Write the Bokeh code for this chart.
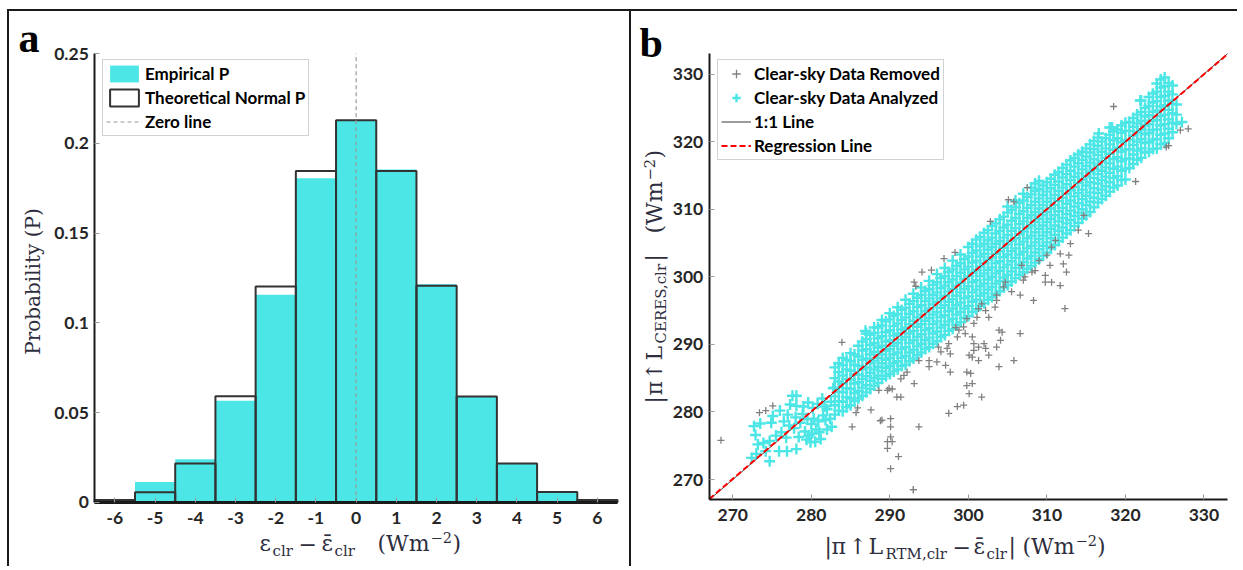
from math import pi
from bokeh.plotting import figure
from bokeh.models import Label, Legend, LegendItem, Range1d, FixedTicker
from bokeh.layouts import row
from bokeh.embed import file_html
from bokeh.resources import INLINE

# ---------------- data: panel a ----------------
bin_centers = [-6, -5, -4, -3, -2, -1, 0, 1, 2, 3, 4, 5, 6]
empirical_p = [0.0011, 0.0113, 0.0240, 0.0566, 0.1157, 0.1806, 0.2130, 0.1855, 0.1215, 0.0591, 0.0215, 0.0056, 0.0011]
theoretical_p = [0.0012, 0.0056, 0.0216, 0.0591, 0.1203, 0.1846, 0.2130, 0.1846, 0.1207, 0.0590, 0.0216, 0.0057, 0.0012]
zero_x = [0, 0]
zero_y = [0, 0.25]
x_ticks_a = [-6, -5, -4, -3, -2, -1, 0, 1, 2, 3, 4, 5, 6]
y_ticks_a = [0, 0.05, 0.1, 0.15, 0.2, 0.25]
y_tick_labels_a = ["0", "0.05", "0.1", "0.15", "0.2", "0.25"]

# ---------------- data: panel b ----------------
ticks_b = [270, 280, 290, 300, 310, 320, 330]
one_x = [267, 333]
one_y = [267, 333]
reg_x = [267, 333]
reg_y = [267.1, 332.95]

removed_x = [268.5, 273.4, 274.2, 275.1, 283.9, 285.2, 285.7, 285.9, 287.6, 288.8, 289.0, 289.7, 289.7, 289.7,
             289.9, 290.1, 290.1, 290.1, 290.1, 290.3, 290.9, 291.1, 291.4, 291.4, 291.8, 292.2, 293.0, 293.1,
             293.7, 293.7, 295.0, 295.0, 296.0, 296.2, 296.5, 297.1, 297.3, 297.5, 297.5, 297.7, 297.7, 298.6,
             298.6, 298.8, 299.4, 299.4, 299.6, 299.8, 299.8, 299.8, 300.1, 300.1, 300.3, 300.5, 300.5, 300.5,
             300.7, 300.7, 300.7, 301.1, 301.3, 301.3, 301.3, 301.7, 301.7, 302.0, 302.2, 302.2, 302.6, 302.6,
             303.4, 303.6, 303.6, 303.6, 303.9, 303.9, 304.1, 304.3, 304.5, 304.7, 305.5, 305.8, 306.6, 306.6,
             306.8, 307.0, 307.2, 308.1, 308.3, 308.5, 309.0, 309.8, 309.8, 310.0, 310.4, 310.6, 310.6, 311.1,
             311.7, 311.7, 312.1, 312.3, 312.5, 312.8, 313.0, 314.0, 314.7, 315.3, 293.1, 293.3, 294.1, 295.3,
             296.9, 298.3, 302.8, 305.1, 305.8, 307.5, 318.5, 321.3, 325.2, 325.5, 327.0, 328.0, 298.4, 288.6,
             290.3, 293.0]
removed_y = [275.8, 279.9, 280.2, 280.9, 290.3, 277.8, 279.9, 280.6, 280.3, 278.7, 278.8, 283.2, 275.6, 274.6,
             283.5, 279.0, 277.8, 276.3, 271.6, 275.6, 282.2, 273.4, 282.2, 284.9, 285.4, 285.9, 268.5, 284.2,
             287.6, 277.8, 287.6, 286.7, 287.4, 289.6, 288.9, 286.9, 289.4, 290.1, 279.8, 288.6, 285.9, 291.1,
             280.8, 292.1, 292.6, 281.0, 291.6, 293.8, 285.9, 283.9, 288.4, 282.7, 285.7, 291.1, 288.1, 284.2,
             293.1, 290.1, 289.1, 294.0, 295.3, 289.6, 287.6, 296.0, 282.2, 290.1, 295.0, 289.4, 294.0, 288.4,
             295.5, 297.3, 296.5, 289.6, 292.1, 286.7, 290.6, 291.8, 298.5, 299.2, 297.8, 287.6, 297.3, 291.6,
             301.7, 299.5, 300.0, 300.7, 296.5, 300.9, 302.4, 300.2, 299.2, 303.2, 301.7, 304.4, 299.2, 305.4,
             303.4, 298.7, 301.9, 295.3, 300.7, 303.2, 304.9, 306.9, 309.1, 306.4, 299.2, 298.6, 300.7, 301.0,
             302.7, 303.6, 308.2, 311.4, 311.1, 313.2, 325.2, 314.1, 319.2, 319.4, 321.7, 321.9, 292.5, 283.2,
             283.4, 268.5]

# sparse lower-left cluster (and a few isolated points) of analyzed data
analyzed_a_x = [272.4, 272.7, 272.9, 273.2, 273.5, 273.0, 273.9, 274.2, 274.7, 274.7, 274.9, 275.1, 275.5, 275.9,
                276.2, 276.5, 276.0, 276.8, 277.0, 277.2, 277.3, 277.6, 278.1, 278.1, 276.9, 278.1, 277.8, 278.4,
                278.0, 278.6, 278.9, 279.0, 279.2, 279.4, 279.5, 279.6, 279.7, 279.9, 280.0, 280.1, 280.2, 280.3,
                280.5, 280.6, 280.8, 280.9, 281.0, 281.2, 281.4, 281.5, 281.7, 281.8, 282.0, 282.0, 282.4, 282.5,
                282.6, 282.8, 286.9, 318.3, 321.9, 327.2, 316.6]
analyzed_a_y = [273.2, 277.9, 276.6, 275.2, 278.3, 273.8, 275.4, 274.2, 272.7, 275.7, 278.4, 279.4, 276.5, 274.2,
                277.0, 278.6, 280.2, 276.2, 279.6, 278.0, 281.1, 282.4, 282.4, 280.9, 274.2, 274.5, 277.6, 276.3,
                279.2, 278.4, 279.7, 280.8, 277.1, 275.9, 278.9, 281.4, 276.5, 275.5, 278.2, 276.8, 280.6, 279.0,
                275.6, 277.4, 281.2, 278.6, 277.0, 276.0, 282.0, 279.5, 280.8, 278.8, 277.4, 280.4, 279.0, 281.5,
                277.8, 283.5, 292.0, 322.1, 326.1, 322.9, 321.2]

# dense band of analyzed data, column by column (x of column, y values in it)
analyzed_col_x = [283, 283.5, 284, 284.5, 285, 285.5, 286, 286.5, 287, 287.5, 288, 288.5, 289, 289.5, 290,
                  290.5, 291, 291.5, 292, 292.5, 293, 293.5, 294, 294.5, 295, 295.5, 296, 296.5, 297, 297.5,
                  298, 298.5, 299, 299.5, 300, 300.5, 301, 301.5, 302, 302.5, 303, 303.5, 304, 304.5, 305,
                  305.5, 306, 306.5, 307, 307.5, 308, 308.5, 309, 309.5, 310, 310.5, 311, 311.5, 312, 312.5,
                  313, 313.5, 314, 314.5, 315, 315.5, 316, 316.5, 317, 317.5, 318, 318.5, 319, 319.5, 320,
                  320.5, 321, 321.5, 322, 322.5, 323, 323.5, 324, 324.5, 325, 325.5, 326, 326.5]
analyzed_col_y = [
    [279.6, 281.0, 282.3, 283.6, 285.0, 286.6],
    [280.2, 281.6, 283.0, 284.5, 285.9, 287.2],
    [280.1, 281.5, 282.9, 284.2, 285.4, 286.9, 288.0],
    [280.7, 282.2, 283.5, 284.9, 286.3, 287.7],
    [281.0, 282.0, 283.4, 284.8, 286.1, 287.5, 288.7],
    [281.6, 282.8, 284.2, 285.6, 287.0, 288.5],
    [282.0, 283.1, 284.4, 285.5, 286.8, 288.2, 289.8],
    [282.4, 283.6, 284.9, 286.3, 287.7, 289.1, 290.4],
    [282.9, 284.0, 285.3, 286.6, 287.9, 289.3, 290.8, 291.6],
    [283.4, 284.6, 285.8, 287.2, 288.5, 289.9, 291.4],
    [283.9, 285.0, 286.3, 287.6, 288.9, 290.2, 291.7, 292.5],
    [284.3, 285.4, 286.7, 288.0, 289.5, 290.9, 292.5],
    [284.9, 286.0, 287.2, 288.5, 289.8, 291.2, 292.8, 293.6],
    [285.3, 286.5, 287.7, 289.0, 290.4, 291.8, 293.4],
    [285.6, 286.8, 288.0, 289.3, 290.6, 292.1, 293.7, 294.6],
    [286.0, 287.2, 288.5, 289.8, 291.3, 292.7, 294.2],
    [286.3, 287.5, 288.8, 290.2, 291.6, 293.1, 294.5, 295.5],
    [286.8, 288.0, 289.3, 290.7, 292.2, 293.6, 295.1],
    [287.0, 288.3, 289.6, 291.1, 292.5, 294.0, 295.4, 296.6],
    [287.5, 288.8, 290.2, 291.6, 293.0, 294.5, 296.0],
    [287.9, 289.2, 290.6, 292.0, 293.5, 294.9, 296.4, 297.5],
    [288.4, 289.7, 291.1, 292.6, 294.0, 295.5, 296.9],
    [288.8, 290.1, 291.5, 293.0, 294.4, 295.8, 297.3, 298.4],
    [289.3, 290.6, 292.1, 293.5, 294.9, 296.4, 297.9],
    [289.6, 291.0, 292.4, 293.9, 295.3, 296.8, 298.2, 299.4],
    [290.1, 291.6, 293.0, 294.4, 295.9, 297.3, 298.8],
    [290.5, 291.9, 293.4, 294.8, 296.3, 297.7, 299.2, 300.4],
    [291.1, 292.5, 294.0, 295.4, 296.8, 298.3, 299.8],
    [291.4, 292.9, 294.3, 295.8, 297.2, 298.7, 300.1, 301.3],
    [292.0, 293.4, 294.9, 296.3, 297.8, 299.2, 300.7],
    [292.3, 293.8, 295.3, 296.7, 298.2, 299.6, 301.1, 302.4],
    [292.9, 294.4, 295.8, 297.2, 298.7, 300.1, 301.6],
    [293.3, 294.8, 296.2, 297.7, 299.1, 300.6, 302.0, 303.3],
    [293.9, 295.3, 296.8, 298.2, 299.7, 301.1, 302.6],
    [294.2, 295.7, 297.1, 298.6, 300.1, 301.5, 303.0, 304.4],
    [294.8, 296.3, 297.7, 299.2, 300.6, 302.1, 303.5, 304.9],
    [295.2, 296.6, 298.1, 299.5, 301.0, 302.4, 303.9, 305.5],
    [295.7, 297.2, 298.6, 300.1, 301.5, 303.0, 304.5, 305.9],
    [296.1, 297.6, 299.0, 300.5, 302.0, 303.4, 304.9, 306.5],
    [296.6, 298.1, 299.6, 301.0, 302.5, 304.0, 305.4, 306.9],
    [297.0, 298.5, 300.0, 301.4, 302.9, 304.4, 305.8, 307.5],
    [297.5, 299.0, 300.5, 302.0, 303.4, 304.9, 306.4, 307.9],
    [297.9, 299.4, 300.9, 302.3, 303.8, 305.3, 306.8, 308.5],
    [298.4, 299.9, 301.4, 302.9, 304.3, 305.8, 307.3, 308.9],
    [298.8, 300.3, 301.8, 303.3, 304.8, 306.2, 307.7, 309.5, 310.4],
    [299.3, 300.8, 302.3, 303.8, 305.3, 306.8, 308.3, 309.9],
    [299.8, 301.3, 302.8, 304.2, 305.7, 307.2, 308.7, 310.3, 311.3],
    [300.3, 301.8, 303.3, 304.8, 306.3, 307.8, 309.3, 310.9],
    [300.7, 302.2, 303.7, 305.2, 306.7, 308.2, 309.7, 311.3, 312.3],
    [301.2, 302.7, 304.2, 305.7, 307.2, 308.7, 310.2, 311.8],
    [301.6, 303.1, 304.6, 306.1, 307.6, 309.1, 310.6, 312.2, 313.2],
    [302.1, 303.6, 305.1, 306.6, 308.1, 309.6, 311.1, 312.7, 313.8],
    [302.6, 304.1, 305.6, 307.1, 308.6, 310.1, 311.6, 313.0, 314.2],
    [303.1, 304.6, 306.1, 307.6, 309.1, 310.6, 312.1, 313.5],
    [303.6, 305.1, 306.6, 308.1, 309.6, 311.1, 312.6, 314.0],
    [304.2, 305.7, 307.1, 308.6, 310.1, 311.6, 313.1, 314.5],
    [304.7, 306.2, 307.6, 309.1, 310.6, 312.1, 313.6, 315.1],
    [305.3, 306.8, 308.2, 309.7, 311.2, 312.7, 314.1, 315.5],
    [305.8, 307.3, 308.7, 310.2, 311.7, 313.2, 314.7, 316.1],
    [306.4, 307.9, 309.3, 310.8, 312.3, 313.7, 315.2, 316.6],
    [306.9, 308.4, 309.8, 311.3, 312.8, 314.3, 315.7, 317.2],
    [307.5, 309.0, 310.4, 311.9, 313.3, 314.8, 316.3, 317.6],
    [308.0, 309.5, 310.9, 312.4, 313.9, 315.3, 316.8, 318.1],
    [308.6, 310.0, 311.5, 312.9, 314.4, 315.9, 317.3, 318.5],
    [309.1, 310.6, 312.0, 313.5, 314.9, 316.4, 317.8, 319.0],
    [309.6, 311.1, 312.5, 314.0, 315.5, 316.9, 318.4, 319.6],
    [310.3, 311.7, 313.1, 314.6, 316.0, 317.4, 318.9, 320.1],
    [311.0, 312.4, 313.8, 315.2, 316.6, 318.0, 319.4, 320.6],
    [311.5, 312.9, 314.3, 315.7, 317.1, 318.5, 320.0],
    [312.0, 313.4, 314.8, 316.2, 317.6, 319.0, 320.5],
    [312.6, 314.0, 315.4, 316.8, 318.2, 319.6, 321.0, 322.1],
    [313.2, 314.6, 316.0, 317.4, 318.8, 320.2, 321.5],
    [313.5, 314.9, 316.3, 317.7, 319.1, 320.5, 321.8],
    [314.3, 315.7, 317.1, 318.5, 319.9, 321.3, 322.4],
    [314.4, 316.0, 317.4, 318.8, 320.2, 321.6, 322.8],
    [316.1, 317.5, 318.9, 320.3, 321.6, 322.9],
    [316.7, 318.1, 319.5, 320.9, 322.2, 323.5],
    [317.3, 318.7, 320.0, 321.4, 322.7, 324.0],
    [317.6, 319.0, 320.4, 321.8, 323.1, 324.4, 326.1],
    [318.4, 319.8, 321.1, 322.4, 323.7, 325.0],
    [318.5, 319.9, 321.3, 322.6, 323.9, 325.3, 326.6],
    [318.9, 320.3, 321.7, 323.1, 324.4, 325.8, 327.1],
    [319.0, 320.4, 321.8, 323.2, 324.6, 326.0, 327.4, 328.6],
    [319.6, 321.0, 322.4, 323.8, 325.2, 326.6, 328.0, 329.2],
    [319.8, 321.2, 322.6, 324.0, 325.4, 326.8, 328.2, 329.5],
    [320.5, 321.9, 323.3, 324.7, 326.1, 327.4, 328.7],
    [321.4, 322.8, 324.2, 325.6, 327.0, 328.3],
    [322.6, 324.0, 325.5],
]

# ---------------- styling / layout constants ----------------
CYAN = "#4de6e6"
TICK_COLOR = "#262626"
LABEL_COLOR = "#2e2e3e"
SERIF = "DejaVu Serif"
SANS = "Lato"
BORDER = "2px solid #1a1a1a"
H = 557  # canvas height of both panels
MAIN, SUB, SUP = 22, 15, 14.5
MID = 0.346  # baseline-to-middle distance of DejaVu Serif, in em

analyzed_x = list(analyzed_a_x)
analyzed_y = list(analyzed_a_y)
for cx, ys in zip(analyzed_col_x, analyzed_col_y):
    for yv in ys:
        analyzed_x.append(cx)
        analyzed_y.append(yv)


def span_x(d0, d1, p0, p1, c0, c1):
    s = (p1 - p0) / (d1 - d0)
    return Range1d(d0 - (p0 - c0) / s, d1 + (c1 - p1) / s)


def span_y(d0, d1, p0, p1, c0, c1):
    s = (p0 - p1) / (d1 - d0)
    return Range1d(d0 - (c0 - p0) / s, d1 + (p1 - c1) / s)


def style_axis(ax, standoff):
    ax.major_label_text_font = SANS
    ax.major_label_text_font_style = "bold"
    ax.major_label_text_font_size = "17.5px"
    ax.major_label_text_color = TICK_COLOR
    ax.major_tick_in = 5
    ax.major_tick_out = 0
    ax.major_tick_line_color = "#9a9a9a"
    ax.minor_tick_line_color = None
    ax.axis_line_color = "#1a1a1a"
    ax.axis_line_width = 2
    ax.major_label_standoff = standoff


def add_runs(p, runs, cx, cy):
    # horizontal runs: (text, page x of left edge, page y of baseline, font px)
    for txt, px, py, size in runs:
        p.add_layout(Label(x=px - cx, y=cy - (py - MID * size), x_units="screen", y_units="screen",
                           text=txt, text_font=SERIF, text_font_size=f"{size}px", text_color=LABEL_COLOR,
                           text_baseline="middle", text_align="left"))


def add_vruns(p, runs, cx, cy):
    # vertical runs (read bottom to top): (text, page x of baseline, page y of start, font px)
    for txt, bx, py, size in runs:
        p.add_layout(Label(x=(bx - MID * size) - cx, y=cy - py, x_units="screen", y_units="screen",
                           text=txt, text_font=SERIF, text_font_size=f"{size}px", text_color=LABEL_COLOR,
                           text_baseline="middle", text_align="left", angle=pi / 2))


def style_legend(lg, gw, gh, x, y_top):
    lg.padding = 3
    lg.spacing = 3
    lg.glyph_width = gw
    lg.glyph_height = gh
    lg.label_height = gh
    lg.label_standoff = 3
    n = len(lg.items)
    height = 2 * 3 + n * gh + (n - 1) * 3
    lg.location = (x, H - y_top - height)
    lg.label_text_font = SANS
    lg.label_text_font_style = "bold"
    lg.label_text_font_size = "17px"
    lg.label_text_color = "#000000"
    lg.border_line_color = "#a6a6a6"
    lg.border_line_width = 1
    lg.background_fill_color = "white"
    lg.background_fill_alpha = 1


def new_fig(width, xr, yr, styles):
    p = figure(width=width, height=H, x_range=xr, y_range=yr, title=None,
               output_backend="svg", toolbar_location=None,
               min_border=0, min_border_left=0, min_border_right=0, min_border_top=0, min_border_bottom=0)
    p.grid.visible = False
    p.outline_line_color = None
    p.styles = styles
    return p


def panel_letter(p, txt, px, baseline, cx, cy):
    size = 42
    p.add_layout(Label(x=px - cx, y=cy - (baseline - 0.3375 * size), x_units="screen", y_units="screen",
                       text=txt, text_font="Liberation Serif", text_font_style="bold",
                       text_font_size=f"{size}px", text_color="#000000", text_baseline="middle"))


# ---------------- panel a ----------------
# canvas of panel a: page x 9..631, y 11..568 ; plot box: x 94.3..617, y 53.3..501.7
C1X, C1Y = 9, 568
p1 = new_fig(622, span_x(-6.5, 6.5, 94.3, 617, 9, 631), span_y(0, 0.25, 501.7, 53.3, 568, 11),
             {"border-top": BORDER, "border-left": BORDER, "margin-left": "7px", "margin-top": "9px"})

lefts = [c - 0.5 for c in bin_centers]
rights = [c + 0.5 for c in bin_centers]
r_emp = p1.quad(left=lefts, right=rights, bottom=0, top=empirical_p, fill_color=CYAN, line_color=None)
r_theo = p1.quad(left=lefts, right=rights, bottom=0, top=theoretical_p, fill_color=None,
                 line_color="#333333", line_width=2)
r_zero = p1.line(zero_x, zero_y, line_color="#9a9a9a", line_width=1.2, line_dash="4 3")

p1.xaxis.fixed_location = 0
p1.xaxis.bounds = (-6.5, 6.5)
p1.yaxis.fixed_location = -6.5
p1.yaxis.bounds = (0, 0.25)
p1.xaxis.ticker = FixedTicker(ticks=x_ticks_a)
p1.xaxis.major_label_overrides = {t: str(t) for t in x_ticks_a}
p1.yaxis.ticker = FixedTicker(ticks=y_ticks_a)
p1.yaxis.major_label_overrides = {t: s for t, s in zip(y_ticks_a, y_tick_labels_a)}
style_axis(p1.xaxis[0], 10)
style_axis(p1.yaxis[0], 6)
p1.xaxis.axis_line_width = 3

lg1 = Legend(items=[LegendItem(label="Empirical P", renderers=[r_emp]),
                    LegendItem(label="Theoretical Normal P", renderers=[r_theo]),
                    LegendItem(label="Zero line", renderers=[r_zero])])
style_legend(lg1, 36, 21, 102 - C1X, 61 - 11)
p1.add_layout(lg1)

panel_letter(p1, "a", 18, 52, C1X, C1Y)
p1.add_layout(Label(x=32 - C1X, y=C1Y - 281, x_units="screen", y_units="screen", text="Probability (P)",
                    text_font=SERIF, text_font_size="20px", text_color=LABEL_COLOR,
                    text_align="center", text_baseline="middle", angle=pi / 2))
add_runs(p1, [("ε", 259, 551, MAIN), ("clr", 272, 555.5, SUB), ("−", 298, 551, MAIN),
              ("ε\u0304", 321, 551, MAIN), ("clr", 334, 555.5, SUB), ("(Wm", 377, 551, MAIN),
              ("−2", 430, 542, SUP), (")", 452, 551, MAIN)], C1X, C1Y)

# ---------------- panel b ----------------
# canvas of panel b: page x 633..1241, y 11..568 ; plot box: x 710.7..1229, y 53.3..499.3
C2X, C2Y = 633, 568
p2 = new_fig(608, span_x(267, 333, 710.7, 1229, 633, 1241), span_y(267, 333, 499.3, 53.3, 568, 11),
             {"border-top": BORDER, "border-left": BORDER, "margin-top": "9px"})

r_ana = p2.scatter(analyzed_x, analyzed_y, marker="cross", size=11, line_color=CYAN, line_width=2.4)
r_rem = p2.scatter(removed_x, removed_y, marker="cross", size=7, line_color="#808080", line_width=1.3)
r_one = p2.line(one_x, one_y, line_color="#3a3a3a", line_width=1)
r_reg = p2.line(reg_x, reg_y, line_color="#ff0000", line_width=2, line_dash="6 3")

p2.xaxis.fixed_location = 267
p2.xaxis.bounds = (267, 333)
p2.yaxis.fixed_location = 267
p2.yaxis.bounds = (267, 333)
p2.xaxis.ticker = FixedTicker(ticks=ticks_b)
p2.yaxis.ticker = FixedTicker(ticks=ticks_b)
style_axis(p2.xaxis[0], 9)
style_axis(p2.yaxis[0], 6)

lg2 = Legend(items=[LegendItem(label="Clear-sky Data Removed", renderers=[r_rem]),
                    LegendItem(label="Clear-sky Data Analyzed", renderers=[r_ana]),
                    LegendItem(label="1:1 Line", renderers=[r_one]),
                    LegendItem(label="Regression Line", renderers=[r_reg])])
style_legend(lg2, 30, 21, 719 - C2X, 61 - 11)
p2.add_layout(lg2)

panel_letter(p2, "b", 641, 57, C2X, C2Y)
add_runs(p2, [("|", 826, 554, MAIN), ("π", 833, 554, MAIN), ("↑", 850, 554, MAIN), ("L", 870, 554, MAIN),
              ("RTM,clr", 887, 558.5, SUB), ("−", 954, 554, MAIN), ("ε\u0304", 975, 554, MAIN),
              ("clr", 988, 558.5, SUB), ("|", 1010, 554, MAIN), ("(Wm", 1024, 554, MAIN),
              ("−2", 1077, 545, SUP), (")", 1098.5, 554, MAIN)], C2X, C2Y)
add_vruns(p2, [("|", 663.6, 403, MAIN), ("π", 663.6, 395, MAIN), ("↑", 663.6, 380, MAIN),
               ("L", 663.6, 360, MAIN), ("CERES,clr", 668, 343, SUB), ("|", 663.6, 261, MAIN),
               ("(Wm", 663.6, 233, MAIN), ("−2", 655.6, 180, SUP), (")", 663.6, 158, MAIN)], C2X, C2Y)

layout = row(p1, p2)
open("out.html", "w").write(file_html(layout, INLINE))
